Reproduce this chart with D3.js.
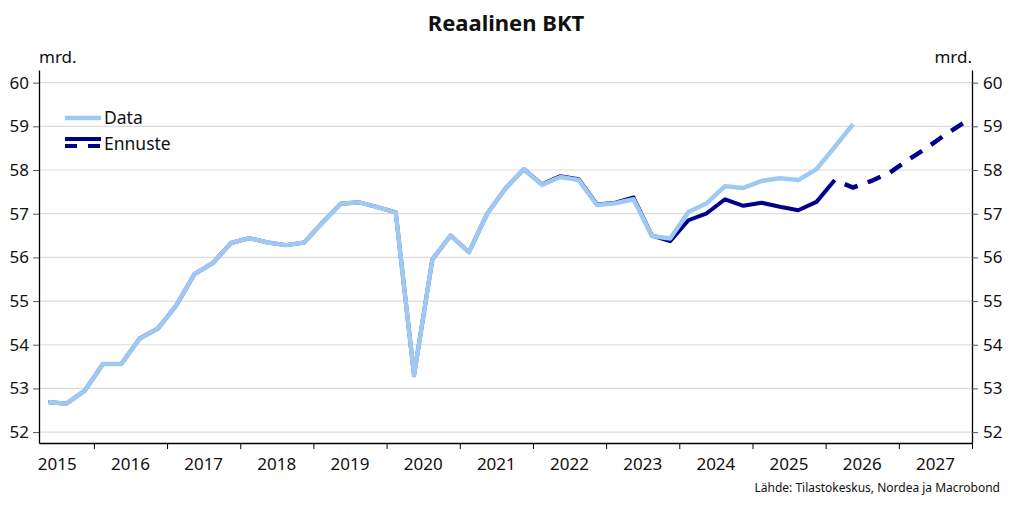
<!DOCTYPE html>
<html>
<head>
<meta charset="utf-8">
<script src="https://cdn.jsdelivr.net/npm/d3@7"></script>
<style>
  body { margin: 0; background: #fff; }
  svg { font-family: "Noto Sans", "Open Sans", sans-serif; }
</style>
</head>
<body>
<svg id="chart" width="1012" height="506"></svg>
<script>
// quarters of the light blue "Data" series
let data_quarters = ['2015Q2','2015Q3','2015Q4',
  '2016Q1','2016Q2','2016Q3','2016Q4',
  '2017Q1','2017Q2','2017Q3','2017Q4',
  '2018Q1','2018Q2','2018Q3','2018Q4',
  '2019Q1','2019Q2','2019Q3','2019Q4',
  '2020Q1','2020Q2','2020Q3','2020Q4',
  '2021Q1','2021Q2','2021Q3','2021Q4',
  '2022Q1','2022Q2','2022Q3','2022Q4',
  '2023Q1','2023Q2','2023Q3','2023Q4',
  '2024Q1','2024Q2','2024Q3','2024Q4',
  '2025Q1','2025Q2','2025Q3','2025Q4',
  '2026Q1','2026Q2'];
let data_values = [52.69, 52.65, 52.95,
  53.56, 53.56, 54.14, 54.37,
  54.90, 55.62, 55.87, 56.33,
  56.44, 56.34, 56.28, 56.34,
  56.80, 57.23, 57.26, 57.15,
  57.03, 53.30, 55.95, 56.50,
  56.12, 57.00, 57.58, 58.02,
  57.66, 57.84, 57.77, 57.20,
  57.24, 57.33, 56.49, 56.43,
  57.04, 57.24, 57.63, 57.59,
  57.75, 57.81, 57.77, 58.02,
  58.53, 59.05];

// navy series, solid (history + nowcast)
let navy_quarters = data_quarters.slice(0, 44);
let navy_values = [52.69, 52.65, 52.95,
  53.56, 53.56, 54.14, 54.37,
  54.90, 55.62, 55.87, 56.33,
  56.44, 56.34, 56.28, 56.34,
  56.80, 57.23, 57.26, 57.15,
  57.03, 53.30, 55.95, 56.50,
  56.12, 57.00, 57.58, 58.02,
  57.67, 57.86, 57.79, 57.21,
  57.25, 57.37, 56.50, 56.37,
  56.85, 57.01, 57.33, 57.18,
  57.25, 57.16, 57.08, 57.27,
  57.77];

// dashed forecast ("Ennuste")
let fc_quarters = ['2026Q1','2026Q2','2026Q3','2026Q4','2027Q1','2027Q2','2027Q3','2027Q4'];
let fc_values = [57.77, 57.60, 57.75, 57.94, 58.23, 58.50, 58.80, 59.07];

let y_ticks = [52, 53, 54, 55, 56, 57, 58, 59, 60];
let year_labels = [2015, 2016, 2017, 2018, 2019, 2020, 2021, 2022, 2023, 2024, 2025, 2026, 2027];

let LEFT = 39, RIGHT = 972, TOP = 70, BOTTOM = 443;
let LIGHT = '#9ec9f2', NAVY = '#00008c';

// quarter -> mid-quarter decimal year
function qx(q) {
    return +q.slice(0, 4) + (+q.slice(5) - 0.5) / 4;
}

let svg = d3.select('#chart');

let xScale = d3.scaleLinear().domain([2015.25, 2028]).range([LEFT, RIGHT]);
let yScale = d3.scaleLinear().domain([51.75, 60.29]).range([BOTTOM, TOP]);

// gridlines
svg.append('g')
    .selectAll('line')
    .data(y_ticks)
    .join('line')
    .attr('x1', LEFT).attr('x2', RIGHT)
    .attr('y1', d => yScale(d)).attr('y2', d => yScale(d))
    .attr('stroke', '#dcdcdc')
    .attr('stroke-width', 1.2);

// left y axis
svg.append('g')
    .attr('transform', `translate(${LEFT},0)`)
    .call(d3.axisLeft(yScale).tickValues(y_ticks).tickSize(6).tickPadding(4).tickSizeOuter(0))
    .call(g => g.select('.domain').attr('stroke', '#000').attr('stroke-width', 1.3))
    .call(g => g.selectAll('.tick line').attr('stroke', '#555'))
    .call(g => g.selectAll('text').attr('font-size', 17).attr('fill', '#111').attr('font-family', '"Noto Sans", sans-serif'));

// right y axis
svg.append('g')
    .attr('transform', `translate(${RIGHT},0)`)
    .call(d3.axisRight(yScale).tickValues(y_ticks).tickSize(6).tickPadding(5).tickSizeOuter(0))
    .call(g => g.select('.domain').attr('stroke', '#000').attr('stroke-width', 1.3))
    .call(g => g.selectAll('.tick line').attr('stroke', '#555'))
    .call(g => g.selectAll('text').attr('font-size', 17).attr('fill', '#111').attr('font-family', '"Noto Sans", sans-serif'));

// x axis: ticks at year boundaries, labels at mid-year
let year_bounds = d3.range(2016, 2029);
svg.append('g')
    .attr('transform', `translate(0,${BOTTOM})`)
    .call(d3.axisBottom(xScale).tickValues(year_bounds).tickSize(6).tickFormat('').tickSizeOuter(0))
    .call(g => g.select('.domain').attr('stroke', '#000').attr('stroke-width', 1.3))
    .call(g => g.selectAll('.tick line').attr('stroke', '#000'));

svg.append('g')
    .selectAll('text')
    .data(year_labels)
    .join('text')
    .attr('x', d => xScale(d + 0.5))
    .attr('y', BOTTOM + 27)
    .attr('text-anchor', 'middle')
    .attr('font-size', 17)
    .attr('fill', '#111')
    .text(d => d);

// lines
let line = d3.line()
    .x(d => xScale(qx(d[0])))
    .y(d => yScale(d[1]));

let fc_path = svg.append('path')
    .datum(d3.zip(fc_quarters, fc_values))
    .attr('d', line)
    .attr('fill', 'none')
    .attr('stroke', NAVY)
    .attr('stroke-width', 4.5);

// stretch the dash pattern a little so it starts with a gap and ends on a dash
let L = fc_path.node().getTotalLength();
let n = Math.round(L / 23);
let p = L / n;
let dash = p * 13 / 23, gap = p * 10 / 23;
fc_path.attr('stroke-dasharray', `${dash},${gap}`).attr('stroke-dashoffset', dash);

svg.append('path')
    .datum(d3.zip(navy_quarters, navy_values))
    .attr('d', line)
    .attr('fill', 'none')
    .attr('stroke', NAVY)
    .attr('stroke-width', 4)
    .attr('stroke-linejoin', 'round');

svg.append('path')
    .datum(d3.zip(data_quarters, data_values))
    .attr('d', line)
    .attr('fill', 'none')
    .attr('stroke', LIGHT)
    .attr('stroke-width', 4.5)
    .attr('stroke-linejoin', 'round');

// legend
let lg = svg.append('g');
lg.append('line').attr('x1', 65).attr('x2', 101).attr('y1', 118).attr('y2', 118)
    .attr('stroke', LIGHT).attr('stroke-width', 4.5);
lg.append('text').attr('x', 104).attr('y', 124).attr('font-size', 17.5).attr('fill', '#111').text('Data');
lg.append('line').attr('x1', 65).attr('x2', 101).attr('y1', 139).attr('y2', 139)
    .attr('stroke', NAVY).attr('stroke-width', 4);
lg.append('line').attr('x1', 65).attr('x2', 101).attr('y1', 146).attr('y2', 146)
    .attr('stroke', NAVY).attr('stroke-width', 4).attr('stroke-dasharray', '12,11');
lg.append('text').attr('x', 104).attr('y', 150).attr('font-size', 17.5).attr('fill', '#111').text('Ennuste');

// units
svg.append('text').attr('x', LEFT).attr('y', 63).attr('font-size', 17).attr('fill', '#111').text('mrd.');
svg.append('text').attr('x', RIGHT).attr('y', 63).attr('text-anchor', 'end').attr('font-size', 17).attr('fill', '#111').text('mrd.');

// title
svg.append('text')
    .attr('x', 506).attr('y', 31)
    .attr('text-anchor', 'middle')
    .attr('font-size', 22)
    .attr('font-weight', 'bold')
    .attr('fill', '#111')
    .text('Reaalinen BKT');

// source
svg.append('text')
    .attr('x', 1000).attr('y', 492)
    .attr('text-anchor', 'end')
    .attr('font-size', 12)
    .attr('fill', '#111')
    .text('Lähde: Tilastokeskus, Nordea ja Macrobond');
</script>
</body>
</html>
